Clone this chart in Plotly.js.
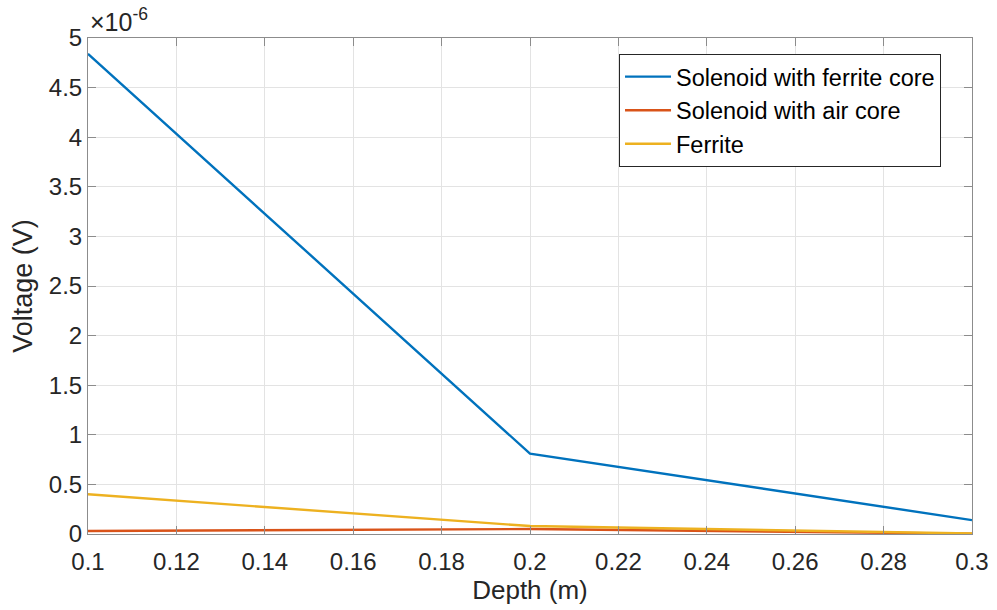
<!DOCTYPE html>
<html>
<head>
<meta charset="utf-8">
<script src="https://cdn.plot.ly/plotly-3.0.1.min.js"></script>
<style>html,body{margin:0;padding:0;background:#fff;}#chart{width:997px;height:610px;}</style>
</head>
<body>
<div id="chart"></div>
<script>
// Data (voltage in units of 1e-6 V)
const depth = [0.1, 0.2, 0.3];
const ferriteCoreSolenoid = [4.84, 0.81, 0.14];
const airCoreSolenoid = [0.03, 0.05, 0.003];
const ferrite = [0.40, 0.08, 0.005];
const seriesNames = ['Solenoid with ferrite core', 'Solenoid with air core', 'Ferrite'];
const seriesColors = ['#0072BD', '#D95319', '#EDB120'];

const font = 'Liberation Sans, Arial, Helvetica, sans-serif';
const ys = [ferriteCoreSolenoid, airCoreSolenoid, ferrite];
const traces = ys.map((y, i) => ({
  x: depth, y: y, type: 'scatter', mode: 'lines', name: seriesNames[i],
  line: {color: seriesColors[i], width: 2.4}
}));

const axisCommon = {
  showline: true, linecolor: '#8c8c8c', linewidth: 1, mirror: 'allticks',
  ticks: 'inside', ticklen: 8, tickcolor: '#8c8c8c', tickwidth: 1,
  showgrid: true, gridcolor: '#e3e3e3', gridwidth: 1, zeroline: false,
  tickfont: {family: font, size: 24, color: '#262626'}
};

const layout = {
  width: 997, height: 610,
  margin: {l: 88, r: 25, t: 38, b: 76},
  paper_bgcolor: '#fff', plot_bgcolor: '#fff',
  showlegend: true,
  legend: {
    x: 0.6007, y: 0.968, xanchor: 'left', yanchor: 'top',
    bgcolor: '#fff', bordercolor: '#262626', borderwidth: 1,
    font: {family: font, size: 23.5, color: '#000'},
    itemwidth: 46, tracegroupgap: 0
  },
  xaxis: Object.assign({}, axisCommon, {
    range: [0.1, 0.3], dtick: 0.02, tick0: 0.1, ticklabelstandoff: 6,
    title: {text: 'Depth (m)', font: {family: font, size: 26, color: '#262626'}, standoff: 6}
  }),
  yaxis: Object.assign({}, axisCommon, {
    range: [0, 5], dtick: 0.5, tick0: 0,
    title: {text: 'Voltage (V)', font: {family: font, size: 27, color: '#262626'}, standoff: 8}
  }),
  annotations: [{
    xref: 'paper', yref: 'paper', x: 0, y: 1, xanchor: 'left', yanchor: 'bottom',
    showarrow: false, yshift: 0, xshift: 0,
    text: '×10<sup>-6</sup>', font: {family: font, size: 25, color: '#262626'}
  }]
};

Plotly.newPlot('chart', traces, layout, {displayModeBar: false, staticPlot: true});
</script>
</body>
</html>
